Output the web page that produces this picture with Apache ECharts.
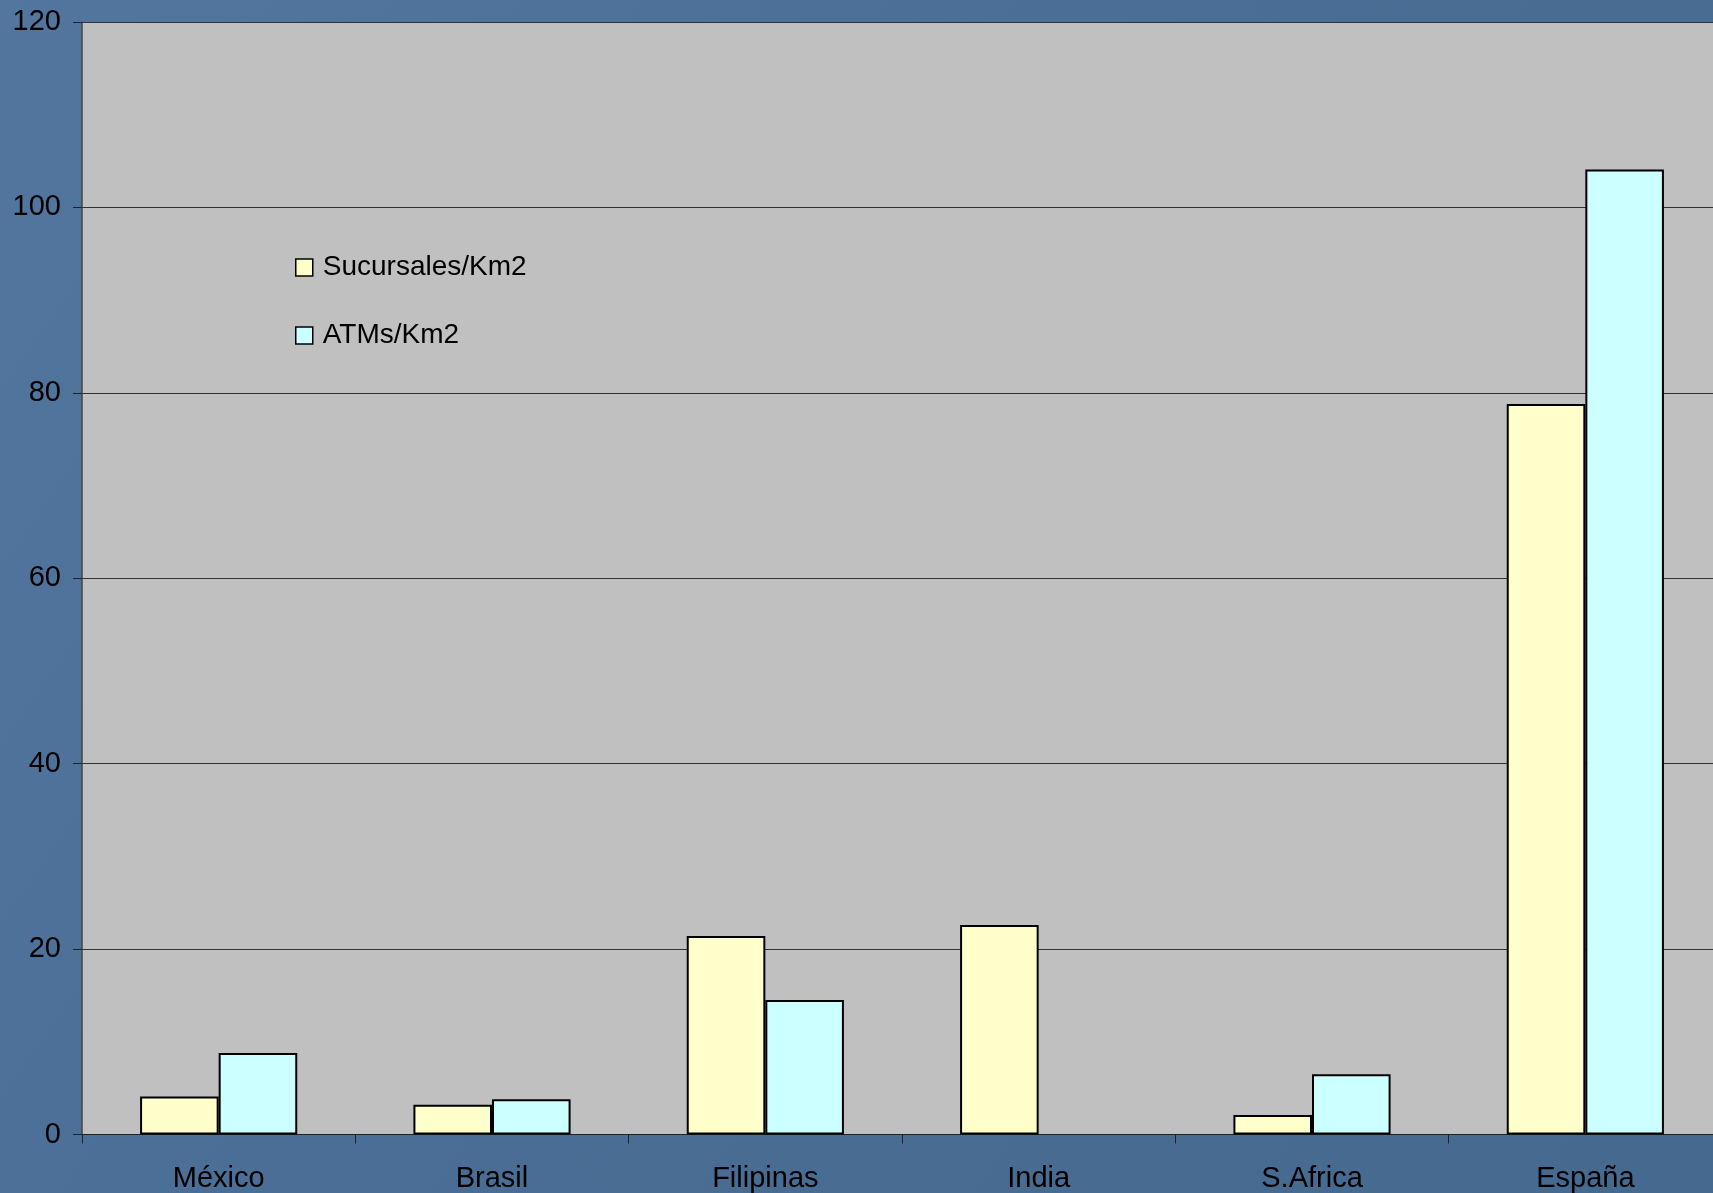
<!DOCTYPE html>
<html>
<head>
<meta charset="utf-8">
<title>Sucursales y ATMs por Km2</title>
<script src="https://cdn.jsdelivr.net/npm/echarts@6/dist/echarts.min.js"></script>
<style>
  html, body { margin: 0; padding: 0; width: 1713px; height: 1193px; overflow: hidden; background: #4b6e96; }
  #chart { width: 1713px; height: 1193px; }
</style>
</head>
<body>
<div id="chart"></div>
<script>
// Countries along the category axis
const countries = ['México', 'Brasil', 'Filipinas', 'India', 'S.Africa', 'España'];

// Branches per km2 and ATMs per km2 (India has no ATM figure)
const sucursales = [4.1, 3.2, 21.4, 22.6, 2.1, 78.8];
const atms = [8.8, 3.8, 14.5, null, 6.5, 104.1];

// Value axis range
const yMin = 0;
const yMax = 120;
const yStep = 20;

const FONT = '"Liberation Sans", Arial, sans-serif';

const chart = echarts.init(document.getElementById('chart'), null, { renderer: 'canvas' });

chart.setOption({
  animation: false,
  backgroundColor: {
    type: 'linear', x: 0, y: 0, x2: 1, y2: 1,
    colorStops: [
      { offset: 0, color: '#52769d' },
      { offset: 0.5, color: '#4a6d95' },
      { offset: 1, color: '#46698f' }
    ]
  },
  textStyle: { fontFamily: FONT },
  grid: {
    left: 82,
    top: 22,
    width: 1640,
    bottom: 58.5,
    outerBoundsMode: 'none',
    containLabel: false,
    show: true,
    backgroundColor: '#c0c0c0',
    borderWidth: 0
  },
  legend: {
    orient: 'vertical',
    left: 290,
    top: 248.5,
    icon: 'rect',
    itemWidth: 17,
    itemHeight: 17,
    itemGap: 40,
    selectedMode: false,
    itemStyle: { borderColor: '#000', borderWidth: 1.5 },
    textStyle: { fontFamily: FONT, fontSize: 28, color: '#000', padding: [0, 0, 0, 5] },
    data: ['Sucursales/Km2', 'ATMs/Km2']
  },
  xAxis: {
    type: 'category',
    data: countries,
    axisLine: { lineStyle: { color: '#222', width: 1 } },
    axisTick: { show: true, alignWithLabel: false, length: 9, lineStyle: { color: '#222' } },
    axisLabel: { color: '#000', fontFamily: FONT, fontSize: 29, margin: 30 },
    splitLine: { show: false }
  },
  yAxis: {
    type: 'value',
    min: yMin,
    max: yMax,
    interval: yStep,
    axisLine: { show: true, lineStyle: { color: '#444', width: 1.5 } },
    axisTick: { show: true, length: 9, lineStyle: { color: '#222' } },
    axisLabel: { color: '#000', fontFamily: FONT, fontSize: 29, margin: 21 },
    splitLine: { show: true, lineStyle: { color: '#333', width: 1 } }
  },
  series: [
    {
      name: 'Sucursales/Km2',
      type: 'bar',
      data: sucursales,
      barGap: '0%',
      barCategoryGap: '42.5%',
      itemStyle: { color: '#ffffcc', borderColor: '#000', borderWidth: 2 }
    },
    {
      name: 'ATMs/Km2',
      type: 'bar',
      data: atms,
      barGap: '0%',
      barCategoryGap: '42.5%',
      itemStyle: { color: '#ccffff', borderColor: '#000', borderWidth: 2 }
    }
  ]
});
</script>
</body>
</html>
